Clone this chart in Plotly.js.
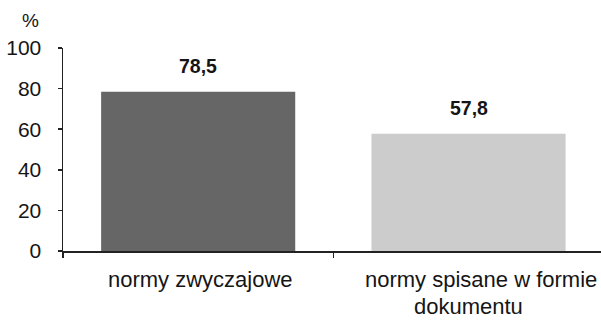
<!DOCTYPE html>
<html>
<head>
<meta charset="utf-8">
<script src="https://cdn.plot.ly/plotly-3.0.1.min.js"></script>
<style>
  html, body { margin: 0; padding: 0; background: #fff; }
  #chart { width: 601px; height: 320px; }
</style>
</head>
<body>
<div id="chart"></div>
<script>
// Category labels, one entry per wrapped line
const categoryLines = [
  ['normy zwyczajowe'],
  ['normy spisane w formie', 'dokumentu']
];
const categories = categoryLines.map(l => l.join(' '));
const values = [78.5, 57.8];
const yTickValues = [0, 20, 40, 60, 80, 100];
const yUnit = '%';

const barColors = ['#666666', '#cccccc'];
const FONT = '"Liberation Sans", Arial, sans-serif';
const INK = '#151515';

const fmt = v => v.toFixed(1).replace('.', ',');

const annotations = [];

// value labels above each bar
values.forEach((v, i) => {
  annotations.push({
    x: categories[i], y: v, xref: 'x', yref: 'y',
    text: '<b>' + fmt(v) + '</b>',
    showarrow: false, xanchor: 'center', yanchor: 'middle', yshift: 26,
    font: { family: FONT, size: 19.5, color: INK }
  });
});

// wrapped category labels under the axis
const lineShift = [-28, -55];
const firstLineX = [2, 12];
categoryLines.forEach((lines, i) => {
  lines.forEach((t, j) => {
    annotations.push({
      x: categories[i], y: 0, xref: 'x', yref: 'paper',
      text: t, showarrow: false, xanchor: 'center', yanchor: 'middle',
      yshift: lineShift[j], xshift: j === 0 ? firstLineX[i] : 0,
      borderpad: 0,
      font: { family: FONT, size: 22, color: INK }
    });
  });
});

// unit label above the value axis
annotations.push({
  x: 0, y: 1, xref: 'paper', yref: 'paper', text: yUnit,
  showarrow: false, xanchor: 'center', yanchor: 'middle',
  xshift: -33, yshift: 28,
  font: { family: FONT, size: 19, color: INK }
});

const trace = {
  type: 'bar',
  x: categories,
  y: values,
  marker: { color: barColors, line: { width: 0 } },
  hoverinfo: 'skip'
};

const layout = {
  width: 601, height: 320,
  margin: { l: 63, r: 0, t: 48, b: 69 },
  paper_bgcolor: '#ffffff', plot_bgcolor: '#ffffff',
  showlegend: false,
  bargap: 0.282,
  xaxis: {
    type: 'category',
    range: [-0.5, 1.49],
    showticklabels: false,
    showline: true, linecolor: '#222', linewidth: 1.5,
    ticks: 'outside', tickson: 'boundaries', ticklen: 5, tickcolor: '#222', tickwidth: 1.5,
    showgrid: false, zeroline: false, fixedrange: true
  },
  yaxis: {
    range: [0, 100],
    tickvals: yTickValues,
    ticktext: yTickValues.map(String),
    tickfont: { family: FONT, size: 21, color: INK },
    showline: true, linecolor: '#222', linewidth: 1.5,
    ticks: 'outside', ticklen: 4, tickcolor: '#222', tickwidth: 1.5,
    ticklabelstandoff: 12,
    showgrid: false, zeroline: false, fixedrange: true
  },
  annotations: annotations
};

Plotly.newPlot('chart', [trace], layout, { displayModeBar: false, staticPlot: true });
</script>
</body>
</html>
